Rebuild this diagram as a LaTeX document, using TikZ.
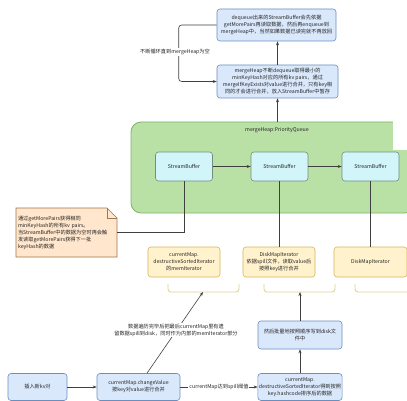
\documentclass[tikz,border=0pt]{standalone}
\usepackage{fontspec}
\setmainfont{Noto Sans CJK SC}
\usetikzlibrary{arrows.meta}
\definecolor{bluefill}{HTML}{DAE8FC}
\definecolor{blueline}{HTML}{6C8EBF}
\definecolor{greenfill}{HTML}{B9E0A5}
\definecolor{greenline}{HTML}{82B366}
\definecolor{cyanfill}{HTML}{D2F5FA}
\definecolor{cyanline}{HTML}{6F8F78}
\definecolor{orangefill}{HTML}{FFF2CC}
\definecolor{orangeline}{HTML}{D6B656}
\definecolor{notefill}{HTML}{FFE6CC}
\definecolor{noteline}{HTML}{A07850}
\definecolor{braceline}{HTML}{E2CC90}
\definecolor{linec}{HTML}{404040}
\begin{document}
\begin{tikzpicture}[x=1pt,y=-1pt,
  font=\fontsize{5.2}{7}\selectfont,
  every node/.style={text=black!85},
  bluebox/.style={draw=blueline, fill=bluefill, rounded corners=3pt, align=center, inner sep=1pt, line width=0.6pt},
  sbbox/.style={draw=cyanline, fill=cyanfill, rounded corners=3pt, align=center, inner sep=1pt, line width=0.6pt, minimum width=57pt, minimum height=29pt},
  orbox/.style={draw=orangeline, fill=orangefill, rounded corners=3pt, align=center, inner sep=1pt, line width=0.6pt, minimum width=72pt, minimum height=30pt},
  lbl/.style={fill=white, inner sep=1pt, align=center},
  conn/.style={draw=linec, line width=0.6pt},
  arr/.style={conn, -{Stealth[length=4pt,width=3pt]}},
  bracestyle/.style={draw=braceline, line width=0.8pt, rounded corners=3pt}
]
\useasboundingbox (0,0) rectangle (407,401);
\fill[white] (0,0) rectangle (407,401);

% top boxes
\node[bluebox, minimum width=119pt, minimum height=32pt] (top) at (276.5,25)
  {dequeue出来的StreamBuffer会先依据\\getMorePairs再读取数据，然后再enqueue到\\mergeHeap中，当然如果数据已读完就不再放回};
\node[bluebox, minimum width=121pt, minimum height=33pt] (mh) at (277.5,81.5)
  {mergeHeap不断dequeue取得最小的\\minKeyHash对应的所有kv pairs，通过\\mergeIfKeyExists对value进行合并，只有key相\\同的才会进行合并，放入StreamBuffer中暂存};

% container
\node[draw=greenline, fill=greenfill, rounded corners=10pt, line width=0.8pt, minimum width=284pt, minimum height=91pt] (heap) at (273,167.5) {};
\fill[white] (393,117) rectangle (408,150);
\node[inner sep=0pt] (heaplbl) at (277,130) {mergeHeap:PriorityQueue};

\node[sbbox] (sb1) at (184,166.5) {StreamBuffer};
\node[sbbox] (sb2) at (279.5,166.5) {StreamBuffer};
\node[sbbox] (sb3) at (370.5,166.5) {StreamBuffer};

% note
\filldraw[fill=notefill, draw=noteline, line width=0.6pt] (16,208) -- (107,208) -- (117,218) -- (117,257) -- (16,257) -- cycle;
\draw[noteline, line width=0.6pt] (107,208) -- (107,218) -- (117,218);
\node[align=left, inner sep=2pt, minimum width=101pt, minimum height=49pt, text width=97pt] (note) at (66.5,232.5)
  {通过getMorePairs获得相同\\minKeyHash的所有kv pairs。\\当StreamBuffer中的数据为空时再会触\\发读取getMorePairs获得下一批\\keyHash的数据};

% orange boxes
\node[orbox] (o1) at (184,262) {currentMap.\\destructiveSortedIterator\\的memIterator};
\node[orbox] (o2) at (279,262) {DiskMapIterator\\依据spill文件，读取value后\\按照key进行合并};
\node[orbox, minimum width=73pt] (o3) at (370.5,262) {DiskMapIterator};

% braces
\draw[bracestyle] (168,284) -- (168,292) -- (239,292) -- (239,284);
\draw[bracestyle] (264,284) -- (264,292) -- (335,292) -- (335,284);
\draw[bracestyle] (355,284) -- (355,292) -- (430,292);
\coordinate (b1) at (203,292);
\coordinate (b2) at (300,292);

% bottom boxes
\node[bluebox, minimum width=84pt, minimum height=28pt] (mid) at (300,335) {然后批量地按照顺序写到disk文\\件中};
\node[bluebox, minimum width=59pt, minimum height=27pt] (A) at (37.5,387) {插入新kv对};
\node[bluebox, minimum width=83pt, minimum height=27pt] (B) at (138.5,387) {currentMap.changeValue\\按key对value进行合并};
\node[bluebox, minimum width=84pt, minimum height=27pt] (C) at (300,387) {currentMap.\\destructiveSortedIterator得到按照\\key.hashcode排序后的数据};

% connectors
\draw[arr] (mh.north) -- (mh.north |- top.south);
\draw[arr, rounded corners=3pt] (top.west) -- ++(-38,0) |- (mh.west);
\node[lbl] (looplbl) at (175,52) {不断循环直到mergeHeap为空};
\draw[arr] (heap.north -| mh.south) -- (mh.south);
\draw[arr] (sb1) -- (sb2);
\draw[arr] (sb2) -- (sb3);
\draw[conn] (sb1.south) |- (note.east);
\draw[conn] (sb2.south) -- (sb2.south |- o2.north);
\draw[conn] (sb3.south) -- (sb3.south |- o3.north);
\draw[arr] (B.north) ++(8.5,0) coordinate (bq) -- (b1);
\node[lbl] (diaglbl) at (176,330) {数据遍历完毕后把最后currentMap里有遗\\留数据spill到disk，同时作为内部的memIterator部分};
\draw[arr] (mid.north) -- (b2);
\draw[arr] (C.north) -- (mid.south);
\draw[arr] (A) -- (B);
\draw[arr] (B) -- node[lbl] (spilllbl) {currentMap达到spill阈值} (C);
\end{tikzpicture}
\end{document}
